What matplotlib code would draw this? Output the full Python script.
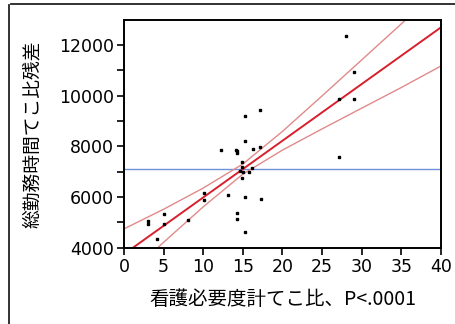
import matplotlib
matplotlib.use("Agg")
import matplotlib.pyplot as plt
from matplotlib.lines import Line2D
import numpy as np

plt.rcParams['font.family'] = ['Noto Sans CJK JP', 'DejaVu Sans']

# scatter values
x_pts = [3.0, 3.0, 4.1, 5.0, 5.0, 8.1, 10.1, 10.1, 12.3, 13.1,
         14.1, 14.2, 14.2, 14.3, 14.2, 14.85, 14.85, 14.6, 15.05, 15.8,
         14.85, 15.3, 15.3, 15.3, 15.3, 16.1, 16.3, 17.1, 17.1, 17.3,
         27.1, 27.1, 28.0, 29.0, 29.0]
y_pts = [5050, 4933, 4342, 5327, 4945, 5090, 6154, 5890, 7860, 6100,
         7860, 7820, 7730, 5366, 5142, 7400, 7200, 7030, 6980, 7000,
         6750, 9185, 8226, 6020, 4618, 7140, 7890, 7990, 9446, 5917,
         9866, 7583, 12346, 10942, 9866]

# fitted line, confidence curves and mean line
fit_x = [0, 40]
fit_y = [3754, 12694]
band_x = [0, 5, 10, 15, 20, 25, 30, 35, 40]
band_hi = [4750, 5523, 6358, 7307, 8593, 9993, 11410, 12832, 14256]
band_lo = [2803, 4221, 5620, 6907, 7855, 8691, 9508, 10322, 11170]
mean_y = 7098

xticks = [0, 5, 10, 15, 20, 25, 30, 35, 40]
yticks = list(range(4000, 13000, 1000))
ylabels = [str(v) if v % 2000 == 0 else '' for v in yticks]

fig = plt.figure(figsize=(4.56, 3.24), dpi=100)
ax = fig.add_axes([0.272, 0.235, 0.695, 0.703])

ax.axhline(mean_y, color='#6f8fd8', linewidth=1.0)
ax.plot(band_x, band_hi, color='#e08a8a', linewidth=1.0)
ax.plot(band_x, band_lo, color='#e08a8a', linewidth=1.0)
ax.plot(fit_x, fit_y, color='#d8202c', linewidth=1.4)
ax.plot(x_pts, y_pts, 's', color='black', markersize=2.0)

ax.set_xlim(0, 40)
ax.set_ylim(4000, 12980)
ax.set_xticks(xticks)
ax.set_yticks(yticks)
ax.set_yticklabels(ylabels)
ax.tick_params(direction='out', length=5, width=1.2, labelsize=12.5, pad=2)
for lab in ax.get_xticklabels() + ax.get_yticklabels():
    lab.set_fontfamily('DejaVu Sans')
for s in ax.spines.values():
    s.set_linewidth(1.4)

ax.set_xlabel('看護必要度計てこ比、P<.0001', fontsize=14, labelpad=10)
ax.set_ylabel('総勤務時間てこ比残差', fontsize=13.5, labelpad=12)

# outer frame of the report box
fig.add_artist(Line2D([0.024, 1.0], [0.988, 0.988], color='#222222', linewidth=1.3))
fig.add_artist(Line2D([0.02, 0.02], [0.0, 0.984], color='#222222', linewidth=1.3))

fig.savefig('out.png', dpi=100)
